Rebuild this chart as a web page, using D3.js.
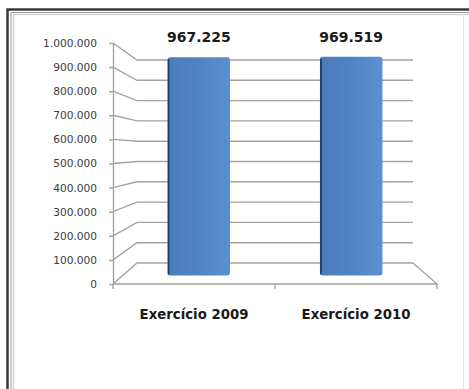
<!DOCTYPE html>
<html><head><meta charset="utf-8">
<script src="https://cdn.jsdelivr.net/npm/d3@7"></script>
<style>html,body{margin:0;padding:0;background:#fff;}svg{display:block;}</style>
</head><body>
<svg id="c" width="469" height="389"></svg>
<script>
const categories = ["Exercício 2009", "Exercício 2010"];
const values = [967225, 969519];
const yTickValues = [0, 100000, 200000, 300000, 400000, 500000, 600000, 700000, 800000, 900000, 1000000];

const loc = d3.formatLocale({decimal: ",", thousands: ".", grouping: [3], currency: ["", ""]});
const fmt = loc.format(",d");

const svg = d3.select("#c");

// frame (double border, right side faint)
svg.append("rect").attr("x", 7.5).attr("y", 9.5).attr("width", 490).attr("height", 420)
  .attr("fill", "none").attr("stroke", "#3a3a3a").attr("stroke-width", 2.5);
svg.append("rect").attr("x", 11).attr("y", 12.5).attr("width", 490).attr("height", 420)
  .attr("fill", "none").attr("stroke", "#9a9a9a").attr("stroke-width", 1);
svg.append("rect").attr("x", 13.5).attr("y", 14.5).attr("width", 490).attr("height", 420)
  .attr("fill", "none").attr("stroke", "#d4d4d4").attr("stroke-width", 1.5);
svg.append("line").attr("x1", 463.5).attr("x2", 463.5).attr("y1", 14).attr("y2", 389)
  .attr("stroke", "#e2e2e2").attr("stroke-width", 1);

// scales (front plane and back wall of the 3D plot)
const yFront = d3.scaleLinear().domain([0, 1000000]).range([284, 43]);
const yBack = d3.scaleLinear().domain([0, 1000000]).range([263, 60]);
const xFront = d3.scaleBand().domain(categories).range([113, 437]);
const xBack = d3.scaleBand().domain(categories).range([137, 413]);
const depth = 0.4;
const lerp = (a, b, t) => a + (b - a) * t;
const yAt = v => lerp(yFront(v), yBack(v), depth);

const gridColor = "#a3a3a3";

// gridlines: side wall diagonal + back wall
const grid = svg.append("g");
yTickValues.forEach(v => {
  grid.append("path")
    .attr("d", `M${xFront.range()[0]},${yFront(v)} L${xBack.range()[0]},${yBack(v)} L${xBack.range()[1]},${yBack(v)}`)
    .attr("fill", "none").attr("stroke", gridColor).attr("stroke-width", 1.4);
});
// floor front and right edges
grid.append("path")
  .attr("d", `M${xFront.range()[0]},${yFront(0)} L${xFront.range()[1]},${yFront(0)} L${xBack.range()[1]},${yBack(0)}`)
  .attr("fill", "none").attr("stroke", gridColor).attr("stroke-width", 1.4);
// category boundary ticks
const bounds = [xFront.range()[0], ...categories.slice(1).map(c => xFront(c)), xFront.range()[1]];
bounds.forEach(x => {
  grid.append("line").attr("x1", x).attr("x2", x).attr("y1", yFront(0)).attr("y2", yFront(0) + 5)
    .attr("stroke", gridColor).attr("stroke-width", 1.4);
});

// y axis
const yAxis = d3.axisLeft(yFront).tickValues(yTickValues).tickFormat(fmt).tickSize(4).tickSizeOuter(0).tickPadding(12);
const ga = svg.append("g").attr("transform", `translate(${xFront.range()[0]},0)`).call(yAxis);
ga.select(".domain").attr("stroke", gridColor).attr("stroke-width", 1.4);
ga.selectAll(".tick line").attr("stroke", gridColor).attr("stroke-width", 1.4);
ga.selectAll(".tick text").attr("fill", "#3c3c3c")
  .style("font-family", "DejaVu Sans, sans-serif").style("font-size", "10.6px");

// bar gradient
const defs = svg.append("defs");
const grad = defs.append("linearGradient").attr("id", "bg").attr("x1", "0").attr("x2", "1").attr("y1", "0").attr("y2", "0");
grad.append("stop").attr("offset", "0").attr("stop-color", "#4a7cbb");
grad.append("stop").attr("offset", "0.5").attr("stop-color", "#5084c5");
grad.append("stop").attr("offset", "1").attr("stop-color", "#5b8fd0");

// bars
const bars = svg.append("g");
categories.forEach((c, i) => {
  const cx = lerp(xFront(c) + xFront.bandwidth() / 2, xBack(c) + xBack.bandwidth() / 2, depth);
  const bw = 0.41 * lerp(xFront.bandwidth(), xBack.bandwidth(), depth);
  const top = yAt(values[i]);
  const bot = yAt(0);
  bars.append("rect").attr("x", cx - bw / 2).attr("y", top).attr("width", bw).attr("height", bot - top)
    .attr("rx", 3).attr("fill", "url(#bg)");
  bars.append("line").attr("x1", cx - bw / 2 + 1).attr("x2", cx - bw / 2 + 1).attr("y1", top + 2).attr("y2", bot - 1)
    .attr("stroke", "#1e3a60").attr("stroke-width", 1.6);
  svg.append("text").attr("x", cx).attr("y", top - 15).attr("text-anchor", "middle")
    .style("font-family", "DejaVu Sans, sans-serif").style("font-weight", "bold").style("font-size", "14px")
    .attr("fill", "#1a1a1a").text(fmt(values[i]));
});

// category labels
categories.forEach(c => {
  svg.append("text").attr("x", xFront(c) + xFront.bandwidth() / 2).attr("y", 319).attr("text-anchor", "middle")
    .style("font-family", "DejaVu Sans, sans-serif").style("font-weight", "bold").style("font-size", "13.3px")
    .attr("fill", "#1a1a1a").text(c);
});
</script>
</body></html>
